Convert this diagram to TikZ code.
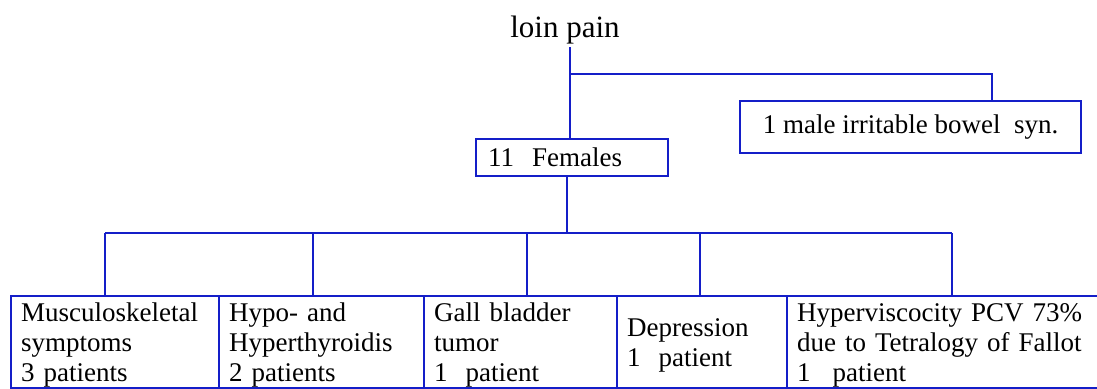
\documentclass[tikz,border=0pt]{standalone}
\usepackage{fontspec}
\setmainfont{Liberation Serif}
\definecolor{lineblue}{RGB}{20,30,200}
\begin{document}
\begin{tikzpicture}[x=1pt,y=-1pt,
  conn/.style={draw=lineblue,line width=2.8pt},
  box/.style={draw=lineblue,line width=2.2pt,rectangle,inner ysep=0pt,font=\fontsize{27}{30}\selectfont,text=black},
  leaf/.style={box,anchor=north west,align=left,minimum height=92pt,inner xsep=10pt,execute at begin node={\rule{0pt}{25pt}}}]
\useasboundingbox (0,0) rectangle (1097,388);
\node[font=\fontsize{31}{34}\selectfont,anchor=base] (root) at (565,37) {loin pain};
\node[box,anchor=north west,minimum height=37pt,text width=168pt,inner xsep=12pt,align=left] (fem) at (475,138) {11\ \ Females};
\node[box,anchor=north west,minimum width=341pt,minimum height=52pt] (male) at (739,100) {1 male irritable bowel\ \ syn.};
\node[leaf,text width=188pt] (b1) at (10,295) {Musculoskeletal\\symptoms\\3 patients};
\node[leaf,text width=185pt] (b2) at (218,295) {Hypo- and\\Hyperthyroidis\\2 patients};
\node[leaf,text width=173pt] (b3) at (423,295) {Gall bladder\\tumor\\1\ \ patient};
\node[leaf,text width=150pt] (b4) at (616,295) {Depression\\1\ \ patient};
\node[leaf,text width=300pt] (b5) at (786,295) {Hyperviscocity PCV 73\%\\due to Tetralogy of Fallot\\1\hspace{22pt}patient};
\coordinate (j1) at (570,74);
\coordinate (j2) at (992,74);
\coordinate (hc) at (567,233);
\coordinate (d1) at (105,233);
\coordinate (d2) at (313,233);
\coordinate (d3) at (527,233);
\coordinate (d4) at (700,233);
\coordinate (d5) at (952,233);
\draw[conn] (root.south -| j1) -- (j1 |- fem.north);
\draw[conn] (j1) -- (j2) -- (j2 |- male.north);
\draw[conn] (fem.south -| hc) -- (hc);
\draw[conn] (d1) -- (d5);
\foreach \i in {1,...,5}{\draw[conn] (d\i) -- (d\i |- b\i.north);}
\end{tikzpicture}
\end{document}
